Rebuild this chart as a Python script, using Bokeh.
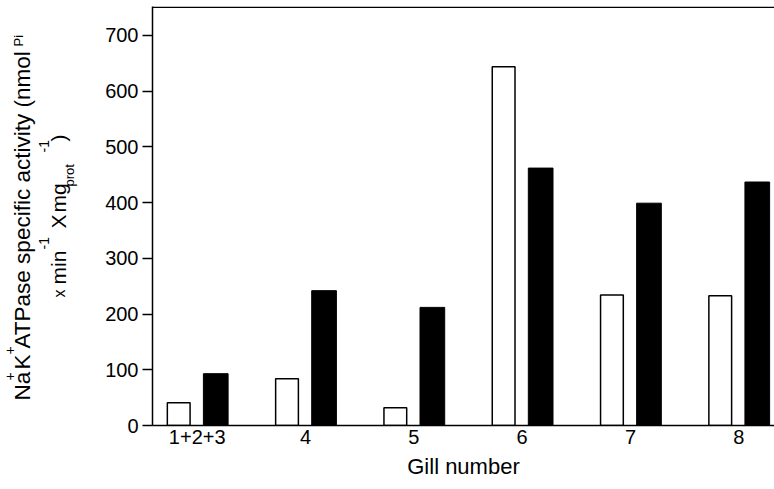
import numpy as np
from math import pi
from bokeh.plotting import figure
from bokeh.layouts import row
from bokeh.models import Range1d, FixedTicker, Span, ColumnDataSource
from bokeh.transform import dodge
from bokeh.core.properties import value
from bokeh.embed import file_html
from bokeh.resources import INLINE

# ---- data ----
gills = ["1+2+3", "4", "5", "6", "7", "8"]
white_vals = [41, 84, 32, 644, 234, 233]
black_vals = [93, 242, 212, 462, 399, 437]
y_ticks = [0, 100, 200, 300, 400, 500, 600, 700]

FONT = "Liberation Sans"
PAGE_W, PAGE_H = 774, 489
LW = 80            # width of the strip that carries the rotated y title
TOP, BOT = 6, 64   # frame borders (top, bottom)

idx = list(range(len(gills)))
src = ColumnDataSource(dict(x=idx, white=white_vals, black=black_vals))

p = figure(width=PAGE_W - LW, height=PAGE_H, output_backend="svg", toolbar_location=None,
           x_range=Range1d(-0.413, 5.33), y_range=Range1d(0, 752),
           min_border_left=152 - LW, min_border_right=0, min_border_top=TOP,
           min_border_bottom=BOT)
p.outline_line_color = None
p.xgrid.visible = False
p.ygrid.visible = False

p.vbar(x=dodge("x", -0.171, range=p.x_range), top="white", width=0.21, bottom=0,
       fill_color="white", line_color="black", line_width=1.5, source=src)
p.vbar(x=dodge("x", 0.171, range=p.x_range), top="black", width=0.228, bottom=0,
       fill_color="black", line_color="black", line_width=1, source=src)

# top frame line
p.add_layout(Span(location=750.5, dimension="width", line_color="black", line_width=1.5))

# x axis
xa = p.xaxis[0]
xa.ticker = FixedTicker(ticks=idx)
xa.major_label_overrides = {i: g for i, g in enumerate(gills)}
xa.major_tick_out = 0
xa.major_tick_in = 0
xa.minor_tick_out = 0
xa.minor_tick_in = 0
xa.axis_line_width = 1.5
xa.axis_line_color = "black"
xa.major_label_text_font = FONT
xa.major_label_text_font_size = "20px"
xa.major_label_text_color = "black"
xa.major_label_standoff = 4
xa.axis_label = "Gill number"
xa.axis_label_text_font = FONT
xa.axis_label_text_font_size = "22px"
xa.axis_label_text_font_style = "normal"
xa.axis_label_text_color = "black"
xa.axis_label_standoff = 7

# y axis
ya = p.yaxis[0]
ya.ticker = FixedTicker(ticks=y_ticks)
ya.major_tick_out = 10
ya.major_tick_in = 0
ya.minor_tick_out = 0
ya.minor_tick_in = 0
ya.axis_line_width = 1.5
ya.axis_line_color = "black"
ya.major_tick_line_color = "black"
ya.major_tick_line_width = 1.5
ya.major_label_text_font = FONT
ya.major_label_text_font_size = "20px"
ya.major_label_text_color = "black"
ya.major_label_standoff = 4

# ---- rotated y-axis title, drawn in a strip left of the plot (pixel-unit ranges) ----
title_text = ["Na", "+", "K", "+", "ATPase specific activity (nmol", "Pi",
              "x", "min", "-1", "X", "mg", "prot", "-1", ")"]
title_start = [400, 380, 369, 354, 348, 46, 297, 284, 249, 228, 212, 186, 152, 141]
title_px = [22.5, 14, 22.5, 14, 22.5, 13, 16, 21, 14, 21, 21, 13, 14, 21]
title_base = [32, 16, 32, 16, 32, 24, 66, 67, 50, 67, 67, 75, 50, 67]

t = figure(width=LW, height=PAGE_H, output_backend="svg", toolbar_location=None,
           x_range=Range1d(0, LW), y_range=Range1d(BOT, PAGE_H - TOP),
           min_border_left=0, min_border_right=0,
           min_border_top=TOP, min_border_bottom=BOT)
t.axis.visible = False
t.grid.visible = False
t.outline_line_color = None
tsrc = ColumnDataSource(dict(
    x=[b - 0.44 * s for b, s in zip(title_base, title_px)],
    y=[PAGE_H - v for v in title_start],
    text=title_text,
    size=[f"{s}px" for s in title_px]))
t.text(x="x", y="y", text="text", source=tsrc, angle=pi / 2,
       text_font=value(FONT), text_font_size="size", text_color="black",
       text_align="left", text_baseline="alphabetic")

layout = row(t, p)
open("out.html", "w").write(file_html(layout, INLINE))
